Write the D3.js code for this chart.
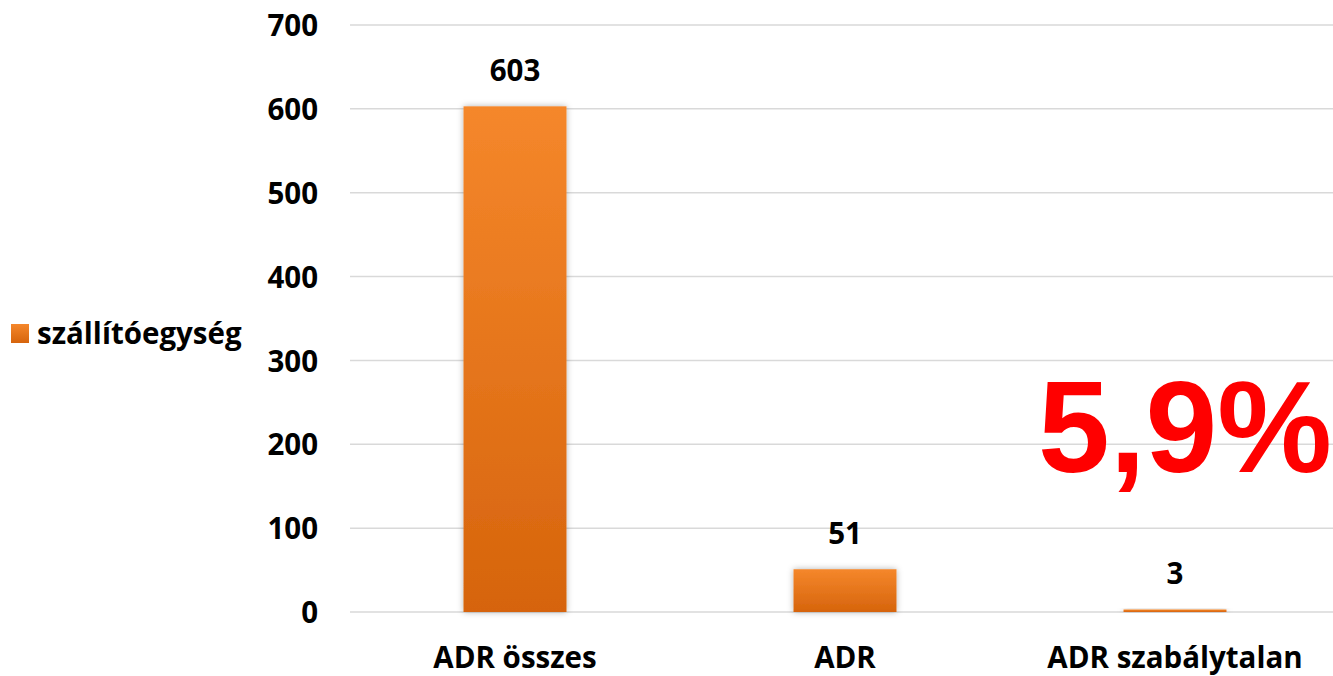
<!DOCTYPE html>
<html>
<head>
<meta charset="utf-8">
<script src="https://cdn.jsdelivr.net/npm/d3@7"></script>
<style>
  html, body { margin: 0; padding: 0; background: #fff; }
  svg { display: block; }
</style>
</head>
<body>
<svg id="chart" width="1333" height="676"></svg>
<script>
const categories = ["ADR összes", "ADR", "ADR szabálytalan"];
const values = [603, 51, 3];
const seriesName = "szállítóegység";
const yTicks = [0, 100, 200, 300, 400, 500, 600, 700];
const highlightText = "5,9%";

const svg = d3.select("#chart");
const font = "'Open Sans', 'Noto Sans', sans-serif";

const defs = svg.append("defs");
const grad = defs.append("linearGradient")
  .attr("id", "barGrad").attr("x1", 0).attr("y1", 0).attr("x2", 0).attr("y2", 1);
grad.append("stop").attr("offset", "0%").attr("stop-color", "#F5872B");
grad.append("stop").attr("offset", "100%").attr("stop-color", "#D6640C");

const shadow = defs.append("filter").attr("id", "shadow")
  .attr("x", "-30%").attr("y", "-30%").attr("width", "160%").attr("height", "160%");
shadow.append("feDropShadow").attr("dx", 0).attr("dy", 0)
  .attr("stdDeviation", 3).attr("flood-color", "#000").attr("flood-opacity", 0.3);

const x = d3.scaleBand().domain(categories).range([350, 1340])
  .paddingInner(0.688).paddingOuter(0.344);
const y = d3.scaleLinear().domain([0, 700]).range([612, 25]);

// gridlines
svg.append("g").selectAll("line").data(yTicks).join("line")
  .attr("x1", 350).attr("x2", 1333)
  .attr("y1", d => y(d)).attr("y2", d => y(d))
  .attr("stroke", "#D9D9D9").attr("stroke-width", 1.5);

// y axis labels
const yAxis = d3.axisLeft(y).tickValues(yTicks).tickSize(0).tickPadding(0);
const yg = svg.append("g").attr("transform", "translate(318,0)").call(yAxis);
yg.select(".domain").remove();
yg.selectAll("text")
  .attr("font-family", font).attr("font-weight", 700).attr("font-size", 29.5)
  .attr("fill", "#000").attr("dy", "0.36em");

// bars
svg.append("g").selectAll("rect").data(values).join("rect")
  .attr("x", (d, i) => x(categories[i]))
  .attr("width", x.bandwidth())
  .attr("y", d => y(d))
  .attr("height", d => y(0) - y(d))
  .attr("fill", "url(#barGrad)")
  .attr("filter", "url(#shadow)");

// value labels
svg.append("g").selectAll("text").data(values).join("text")
  .attr("x", (d, i) => x(categories[i]) + x.bandwidth() / 2)
  .attr("y", d => y(d) - 25)
  .attr("text-anchor", "middle")
  .attr("font-family", font).attr("font-weight", 700).attr("font-size", 29.5)
  .attr("fill", "#000")
  .text(d => d);

// x axis labels
const xAxis = d3.axisBottom(x).tickSize(0).tickPadding(0);
const xg = svg.append("g").attr("transform", "translate(0,668)").call(xAxis);
xg.select(".domain").remove();
xg.selectAll("text")
  .attr("font-family", font).attr("font-weight", 700).attr("font-size", 29.5)
  .attr("fill", "#000").attr("dy", 0);

// legend
const lg = svg.append("g");
lg.append("rect").attr("x", 11).attr("y", 324).attr("width", 18).attr("height", 19)
  .attr("fill", "url(#barGrad)");
lg.append("text").attr("x", 37).attr("y", 344)
  .attr("font-family", font).attr("font-weight", 700).attr("font-size", 29.5)
  .attr("fill", "#000").text(seriesName);

// highlight text
svg.append("text").attr("x", 1038).attr("y", 472)
  .attr("font-family", "'Liberation Sans', Arial, sans-serif").attr("font-weight", 700)
  .attr("font-size", 129).attr("fill", "#FF0000")
  .text(highlightText);
</script>
</body>
</html>
